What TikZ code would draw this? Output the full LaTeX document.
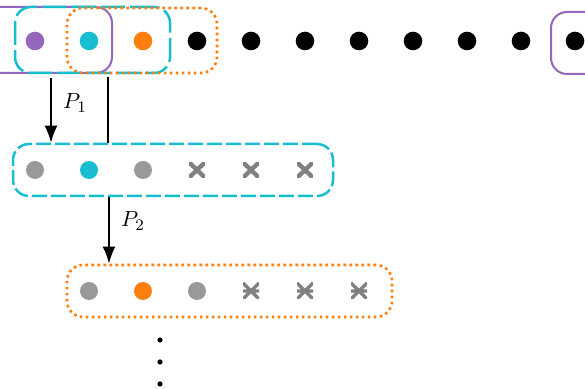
\documentclass[tikz,border=0pt]{standalone}
\usetikzlibrary{arrows.meta}
\definecolor{tpurple}{HTML}{9467BD}
\definecolor{tcyan}{HTML}{17BECF}
\definecolor{torange}{HTML}{FF7F0E}
\definecolor{dotgray}{HTML}{999999}
\definecolor{xgray}{HTML}{808080}
\begin{document}
\begin{tikzpicture}[x=0.5pt,y=-0.5pt,
  dot/.style={circle,fill=#1,inner sep=0pt,minimum size=9.3pt},
  smalldot/.style={circle,fill=black,inner sep=0pt,minimum size=2.6pt},
  boxbase/.style={rounded corners=8pt,inner sep=0pt},
  purplebox/.style={boxbase,draw=tpurple,line width=1pt},
  cyanboxA/.style={boxbase,draw=tcyan,line width=1.25pt,dash pattern=on 12pt off 2.6pt},
  cyanboxB/.style={boxbase,draw=tcyan,line width=1.25pt,dash pattern=on 7.5pt off 2pt},
  orangebox/.style={boxbase,draw=torange,line width=1.3pt,dash pattern=on 1.3pt off 1.7pt},
  xmark/.style={minimum width=7.8pt,minimum height=7.5pt,inner sep=0pt,
    path picture={\draw[xgray,line width=2.2pt]
      (path picture bounding box.south west) -- (path picture bounding box.north east)
      (path picture bounding box.north west) -- (path picture bounding box.south east);}},
  smark/.style={minimum width=8pt,minimum height=8pt,inner sep=0pt,
    path picture={\draw[xgray,line width=1.6pt]
      (path picture bounding box.south west) -- (path picture bounding box.north east)
      (path picture bounding box.north west) -- (path picture bounding box.south east)
      (path picture bounding box.west) -- (path picture bounding box.east);}},
  arr/.style={line width=1pt,-{Latex[length=8.5pt,width=6.5pt]}},
  plain/.style={line width=1pt},
  lbl/.style={font=\fontsize{11}{13}\selectfont,inner sep=0pt}
]
\useasboundingbox (0,0) rectangle (585,389);
\clip (0,0) rectangle (585,389);

% top row boxes
\node[purplebox,minimum width=86pt,minimum height=33pt] (pl) at (26,40) {};
\node[purplebox,minimum width=45pt,minimum height=31pt] (pr) at (596,43) {};
\node[cyanboxA,minimum width=77.5pt,minimum height=33pt] (ct) at (92.5,40) {};
\node[orangebox,minimum width=75pt,minimum height=32.5pt] (ot) at (142,40.5) {};

% top row dots
\node[dot=tpurple] (t0) at (35,41) {};
\node[dot=tcyan] (t1) at (89,41) {};
\node[dot=torange] (t2) at (143,41) {};
\foreach \i in {3,...,10} \node[dot=black] (t\i) at ({35+54*\i},41) {};

% second row
\node[cyanboxB,minimum width=160pt,minimum height=26pt] (r2box) at (173,170) {};
\node[dot=dotgray,minimum size=9pt] (m0) at (35,170) {};
\node[dot=tcyan,minimum size=9pt] (m1) at (89,170) {};
\node[dot=dotgray,minimum size=9pt] (m2) at (143,170) {};
\node[xmark] (m3) at (197,170) {};
\node[xmark] (m4) at (251,170) {};
\node[xmark] (m5) at (305,170) {};

% third row
\node[orangebox,minimum width=162.5pt,minimum height=26pt] (r3box) at (229.5,291) {};
\node[dot=dotgray,minimum size=9pt] (b0) at (89,291) {};
\node[dot=torange,minimum size=9pt] (b1) at (143,291) {};
\node[dot=dotgray,minimum size=9pt] (b2) at (197,291) {};
\node[smark] (b3) at (251,291) {};
\node[smark] (b4) at (305,291) {};
\node[smark] (b5) at (359,291) {};

% vertical dots
\node[smalldot] (v1) at (160,340) {};
\node[smalldot] (v2) at (160,362) {};
\node[smalldot] (v3) at (160,384) {};

% connectors
\coordinate (a1) at (51,78);
\coordinate (l1) at (108,77);
\coordinate (a2) at (109,197);
\draw[arr] (a1) -- (a1 |- r2box.north);
\draw[plain] (l1) -- (l1 |- r2box.north);
\draw[arr] (a2 |- r2box.south) -- (a2 |- r3box.north);

% labels
\node[lbl] (P1) at (75,103) {$P_1$};
\node[lbl] (P2) at (133,221) {$P_2$};
\end{tikzpicture}
\end{document}
